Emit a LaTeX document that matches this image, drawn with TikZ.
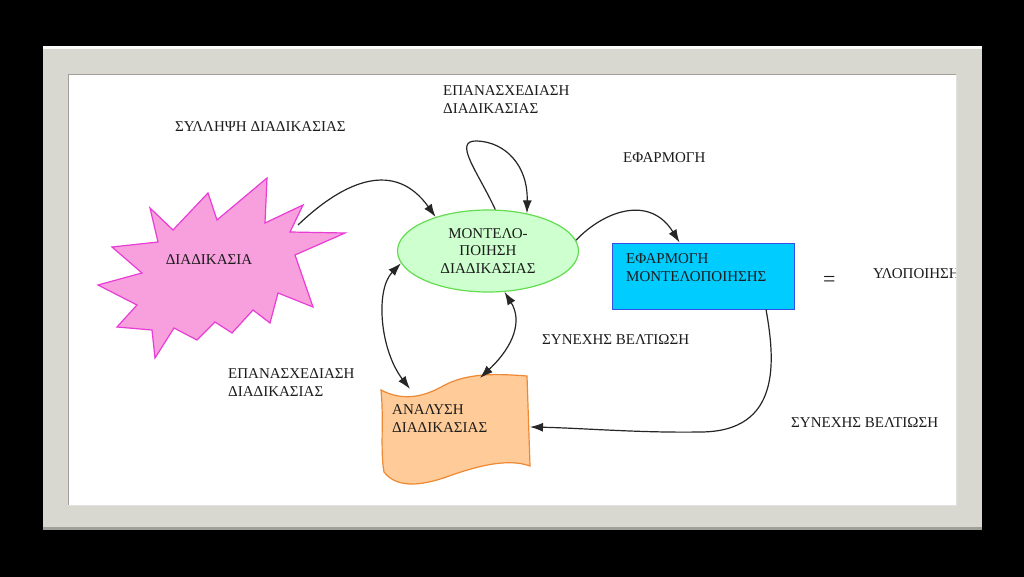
\documentclass[tikz,border=0pt]{standalone}
\usepackage{fontspec}
\setmainfont{Liberation Serif}
\usetikzlibrary{shapes.geometric,arrows.meta}
\definecolor{framegrey}{RGB}{216,216,208}
\definecolor{frameedge}{RGB}{160,160,152}
\definecolor{txt}{RGB}{28,28,28}
\definecolor{starfill}{RGB}{248,160,222}
\definecolor{stardraw}{RGB}{232,60,212}
\definecolor{ellfill}{RGB}{206,255,206}
\definecolor{elldraw}{RGB}{100,220,80}
\definecolor{boxfill}{RGB}{0,204,255}
\definecolor{boxdraw}{RGB}{50,80,230}
\definecolor{docfill}{RGB}{255,204,153}
\definecolor{docdraw}{RGB}{238,136,51}
\tikzset{
  lbl/.style={font=\fontsize{15}{18}\selectfont, text=txt, inner sep=0pt, anchor=west, align=left},
  conn/.style={draw=black!85, line width=1.2pt, -{Latex[length=13pt,width=9pt]}},
  dconn/.style={draw=black!85, line width=1.2pt, {Latex[length=13pt,width=9pt]}-{Latex[length=13pt,width=9pt]}},
}
\begin{document}
\begin{tikzpicture}[x=1pt,y=-1pt]
\useasboundingbox (0,0) rectangle (1024,577);
\fill[black] (0,0) rectangle (1024,577);
% frame
\fill[framegrey] (43,46) rectangle (982,530);
\fill[white!90!framegrey] (43,46) rectangle (982,49);
\fill[frameedge] (43,527) rectangle (982,530);
\fill[white] (68,75) rectangle (956,505);
\draw[frameedge, line width=1pt] (68,505) -- (68,75) -- (956,75);
\draw[white!70!frameedge, line width=1pt] (956,75) -- (956,505) -- (68,505);
\begin{scope}
\clip (69,76) rectangle (955,504);
% star
\filldraw[fill=starfill, draw=stardraw, line width=1.2pt]
  (267,178) -- (265,223) -- (303,205) -- (290,232) -- (345,233) -- (295,255)
  -- (313,307) -- (278,293) -- (270,323) -- (253,310) -- (232,333) -- (215,322)
  -- (197,340) -- (174,328) -- (155,358) -- (152,330) -- (117,327) -- (137,305)
  -- (98,285) -- (142,273) -- (112,247) -- (158,242) -- (150,208) -- (173,230)
  -- (208,193) -- (217,220) -- cycle;
\node[lbl, anchor=center] (star) at (209,260) {ΔΙΑΔΙΚΑΣΙΑ};
\coordinate (sA) at (298,225);
% ellipse
\node[ellipse, fill=ellfill, draw=elldraw, line width=1.2pt, minimum width=181pt, minimum height=82pt,
      inner sep=0pt, font=\fontsize{15}{17.5}\selectfont, text=txt, align=center] (ell) at (488,251)
  {ΜΟΝΤΕΛΟ-\\ΠΟΙΗΣΗ\\ΔΙΑΔΙΚΑΣΙΑΣ};
% rectangle
\node[rectangle, fill=boxfill, draw=boxdraw, line width=1pt, minimum width=182pt, minimum height=66pt,
      inner sep=0pt] (rect) at (703,276) {};
\node[lbl] (recttxt) at (626,268) {ΕΦΑΡΜΟΓΗ\\ΜΟΝΤΕΛΟΠΟΙΗΣΗΣ};
% document shape
\filldraw[fill=docfill, draw=docdraw, line width=1.2pt]
  (381,390) .. controls (400,400) and (420,399) .. (443,386)
  .. controls (468,372) and (500,374) .. (527,376)
  -- (530,466)
  .. controls (508,458) and (478,466) .. (452,475)
  .. controls (425,485) and (398,490) .. (384,472)
  .. controls (380,450) and (384,420) .. cycle;
\node[lbl] (doc) at (392,419) {ΑΝΑΛΥΣΗ\\ΔΙΑΔΙΚΑΣΙΑΣ};
\coordinate (d1) at (410,389);
\coordinate (d2) at (480,378);
\coordinate (d3) at (530,427);
% labels
\node[lbl] (l1) at (443,100) {ΕΠΑΝΑΣΧΕΔΙΑΣΗ\\ΔΙΑΔΙΚΑΣΙΑΣ};
\node[lbl] (l2) at (175,127) {ΣΥΛΛΗΨΗ ΔΙΑΔΙΚΑΣΙΑΣ};
\node[lbl] (l3) at (623,158) {ΕΦΑΡΜΟΓΗ};
\node[lbl] (l4) at (542,340) {ΣΥΝΕΧΗΣ ΒΕΛΤΙΩΣΗ};
\node[lbl] (l5) at (228,383) {ΕΠΑΝΑΣΧΕΔΙΑΣΗ\\ΔΙΑΔΙΚΑΣΙΑΣ};
\node[lbl] (l6) at (791,423) {ΣΥΝΕΧΗΣ ΒΕΛΤΙΩΣΗ};
\node[lbl, font=\fontsize{22}{24}\selectfont] (eq) at (823,281) {=};
\node[lbl] (l7) at (873,274) {ΥΛΟΠΟΙΗΣΗ};
% connectors
\draw[conn] (sA) .. controls (345,180) and (395,160) .. (ell.147);
\draw[conn] (ell.80) .. controls (478,172) and (452,140) .. (477,141)
  .. controls (505,142) and (528,165) .. (ell.44);
\draw[conn] (ell.7) .. controls (605,210) and (650,195) .. (rect.125);
\draw[dconn] (ell.188) .. controls (375,290) and (380,350) .. (d1);
\draw[dconn] (ell.-68) .. controls (522,320) and (515,345) .. (d2);
\draw[conn] (rect.-28) .. controls (775,360) and (782,432) .. (700,432)
  .. controls (640,433) and (580,428) .. (d3);
\end{scope}
\end{tikzpicture}
\end{document}
